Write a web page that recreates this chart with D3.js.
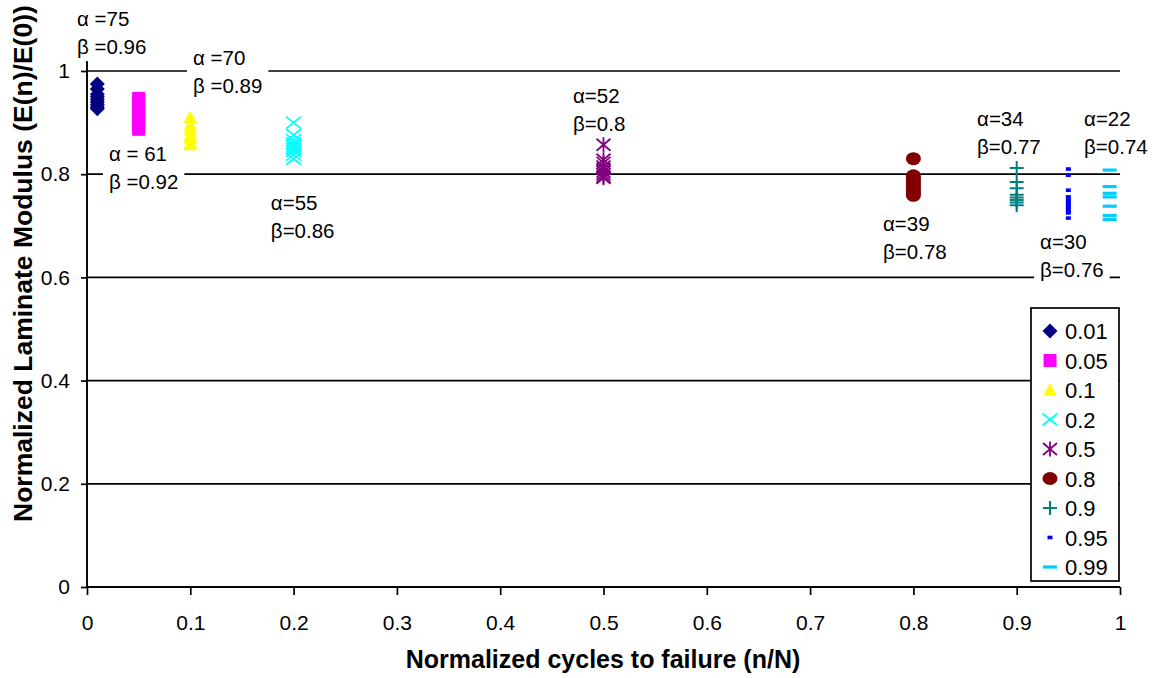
<!DOCTYPE html>
<html><head><meta charset="utf-8">
<script src="https://cdn.jsdelivr.net/npm/d3@7"></script>
<style>
body{margin:0;background:#fff}
svg{display:block}
text{font-family:"Liberation Sans",Arial,sans-serif;fill:#000}
</style>
</head><body>
<svg id="chart" width="1158" height="678"></svg>
<script>
// ---------- data ----------
const seriesNames = ["0.01","0.05","0.1","0.2","0.5","0.8","0.9","0.95","0.99"];
const seriesX = [0.01, 0.05, 0.1, 0.2, 0.5, 0.8, 0.9, 0.95, 0.99];
const v001 = [0.975, 0.965, 0.955, 0.95, 0.945, 0.94, 0.935, 0.93, 0.927];
const v005 = [0.947, 0.94, 0.93, 0.92, 0.91, 0.905, 0.9, 0.895, 0.887];
const v01  = [0.91, 0.895, 0.885, 0.875, 0.87, 0.86, 0.857];
const v02  = [0.90, 0.876, 0.866, 0.86, 0.855, 0.85, 0.845, 0.838, 0.83];
const v05  = [0.857, 0.828, 0.822, 0.815, 0.81, 0.805, 0.80, 0.795, 0.793];
const v08  = [0.83, 0.797, 0.792, 0.787, 0.782, 0.777, 0.772, 0.767, 0.763, 0.759];
const v09  = [0.812, 0.785, 0.773, 0.76, 0.755, 0.75, 0.745, 0.74];
const v095 = [0.81, 0.798, 0.769, 0.756, 0.75, 0.745, 0.74, 0.735, 0.73, 0.725, 0.715];
const v099 = [0.808, 0.776, 0.763, 0.756, 0.738, 0.72, 0.712];
const seriesValues = [v001, v005, v01, v02, v05, v08, v09, v095, v099];

const seriesColors = ["#000080","#FF00FF","#FFFF00","#00FFFF","#800080","#800000","#008080","#0000FF","#00CCFF"];
const seriesShapes = ["diamond","square","triangle","x","asterisk","circle","plus","dot","dash"];

const xTicks = [0, 0.1, 0.2, 0.3, 0.4, 0.5, 0.6, 0.7, 0.8, 0.9, 1];
const yTicks = [0, 0.2, 0.4, 0.6, 0.8, 1];

const alphaLabels = ["α =75","α =70","α = 61","α=55","α=52","α=39","α=34","α=30","α=22"];
const betaLabels  = ["β =0.96","β =0.89","β =0.92","β=0.86","β=0.8","β=0.78","β=0.77","β=0.76","β=0.74"];
// label anchor (left of text, baseline of alpha line) in data units
const labelX = [-0.0097, 0.1026, 0.0213, 0.178, 0.4705, 0.7706, 0.8616, 0.9226, 0.9652];
const labelY = [1.087, 1.0116, 0.8256, 0.7306, 0.938, 0.690, 0.8934, 0.655, 0.8934];

const xTitle = "Normalized cycles to failure (n/N)";
const yTitle = "Normalized Laminate Modulus (E(n)/E(0))";

// ---------- drawing ----------
const svg = d3.select("#chart");
svg.append("rect").attr("width",1158).attr("height",678).attr("fill","#fff");

const x = d3.scaleLinear().domain([0,1]).range([87,1120]);
const y = d3.scaleLinear().domain([0,1]).range([587,71]);

// gridlines
svg.append("g").selectAll("line").data(yTicks.filter(d=>d>0)).join("line")
  .attr("x1", x(0)).attr("x2", x(1))
  .attr("y1", d=>y(d)).attr("y2", d=>y(d))
  .attr("stroke","#000").attr("stroke-width",1.7);

// axes
const gx = svg.append("g").attr("transform",`translate(0,${y(0)})`)
  .call(d3.axisBottom(x).tickValues(xTicks).tickSize(8).tickPadding(20).tickFormat(d=>String(d)));
const gy = svg.append("g").attr("transform",`translate(${x(0)},0)`)
  .call(d3.axisLeft(y).tickValues(yTicks).tickSize(6).tickPadding(11).tickFormat(d=>String(d)));
[gx,gy].forEach(g=>{
  g.select(".domain").remove();
  g.selectAll(".tick line").attr("stroke","#000").attr("stroke-width",1.7);
  g.selectAll(".tick text").attr("font-size",21).attr("font-family","Liberation Sans, Arial, sans-serif").attr("fill","#000");
});
svg.append("line").attr("x1",x(0)).attr("x2",x(1)).attr("y1",y(0)).attr("y2",y(0))
  .attr("stroke","#000").attr("stroke-width",1.9);
svg.append("line").attr("x1",x(0)).attr("x2",x(0)).attr("y1",y(0)).attr("y2",y(1)-11)
  .attr("stroke","#000").attr("stroke-width",1.9);

// axis titles
svg.append("text").attr("x",603).attr("y",668).attr("text-anchor","middle")
  .attr("font-size",25).attr("font-weight","bold").text(xTitle);
svg.append("text").attr("transform","translate(32,522) rotate(-90)")
  .attr("text-anchor","start").attr("font-size",26.5).attr("font-weight","bold").text(yTitle);

// annotation labels with white background
const lab = svg.append("g");
alphaLabels.forEach((a,i)=>{
  const g = lab.append("g");
  const bg = g.append("rect").attr("fill","#fff");
  const t1 = g.append("text").attr("x",x(labelX[i])).attr("y",y(labelY[i])).attr("font-size",20.5).text(a);
  const t2 = g.append("text").attr("x",x(labelX[i])).attr("y",y(labelY[i])+28).attr("font-size",20.5).text(betaLabels[i]);
  const b1 = t1.node().getBBox(), b2 = t2.node().getBBox();
  const x0 = Math.min(b1.x,b2.x)-6, x1 = Math.max(b1.x+b1.width,b2.x+b2.width)+6;
  const y0 = b1.y-3, y1 = b2.y+b2.height+3;
  bg.attr("x",x0).attr("y",y0).attr("width",x1-x0).attr("height",y1-y0);
});

// marker shapes
function drawMarker(sel, shape, color){
  switch(shape){
    case "diamond":
      sel.append("path").attr("d","M0,-7.5L7.5,0L0,7.5L-7.5,0Z").attr("fill",color); break;
    case "square":
      sel.append("rect").attr("x",-6.5).attr("y",-6.5).attr("width",13).attr("height",13).attr("fill",color); break;
    case "triangle":
      sel.append("path").attr("d","M0,-7L6.8,5.5L-6.8,5.5Z").attr("fill",color); break;
    case "x":
      sel.append("path").attr("d","M-7.5,-6L7.5,6M-7.5,6L7.5,-6").attr("stroke",color).attr("stroke-width",1.8).attr("fill","none"); break;
    case "asterisk":
      sel.append("path").attr("d","M-7,-6L7,6M-7,6L7,-6M0,-7.5L0,7.5").attr("stroke",color).attr("stroke-width",1.8).attr("fill","none"); break;
    case "circle":
      sel.append("ellipse").attr("rx",7.5).attr("ry",6.5).attr("fill",color); break;
    case "plus":
      sel.append("path").attr("d","M-7,0L7,0M0,-7L0,7").attr("stroke",color).attr("stroke-width",2).attr("fill","none"); break;
    case "dot":
      sel.append("rect").attr("x",-2.5).attr("y",-1.8).attr("width",5).attr("height",3.6).attr("fill",color); break;
    case "dash":
      sel.append("rect").attr("x",-7).attr("y",-1.6).attr("width",14).attr("height",3.2).attr("fill",color); break;
  }
}

// points
seriesValues.forEach((vals,i)=>{
  const g = svg.append("g");
  vals.forEach(v=>{
    const m = g.append("g").attr("transform",`translate(${x(seriesX[i])},${y(v)})`);
    drawMarker(m, seriesShapes[i], seriesColors[i]);
  });
});

// legend
const lg = svg.append("g");
lg.append("rect").attr("x",1031).attr("y",308).attr("width",88).attr("height",273)
  .attr("fill","#fff").attr("stroke","#000").attr("stroke-width",1.7);
seriesNames.forEach((n,i)=>{
  const cy = 331 + i*29.5;
  const m = lg.append("g").attr("transform",`translate(1050,${cy})`);
  drawMarker(m, seriesShapes[i], seriesColors[i]);
  lg.append("text").attr("x",1065).attr("y",cy+8).attr("font-size",22).text(n);
});
</script>
</body></html>
